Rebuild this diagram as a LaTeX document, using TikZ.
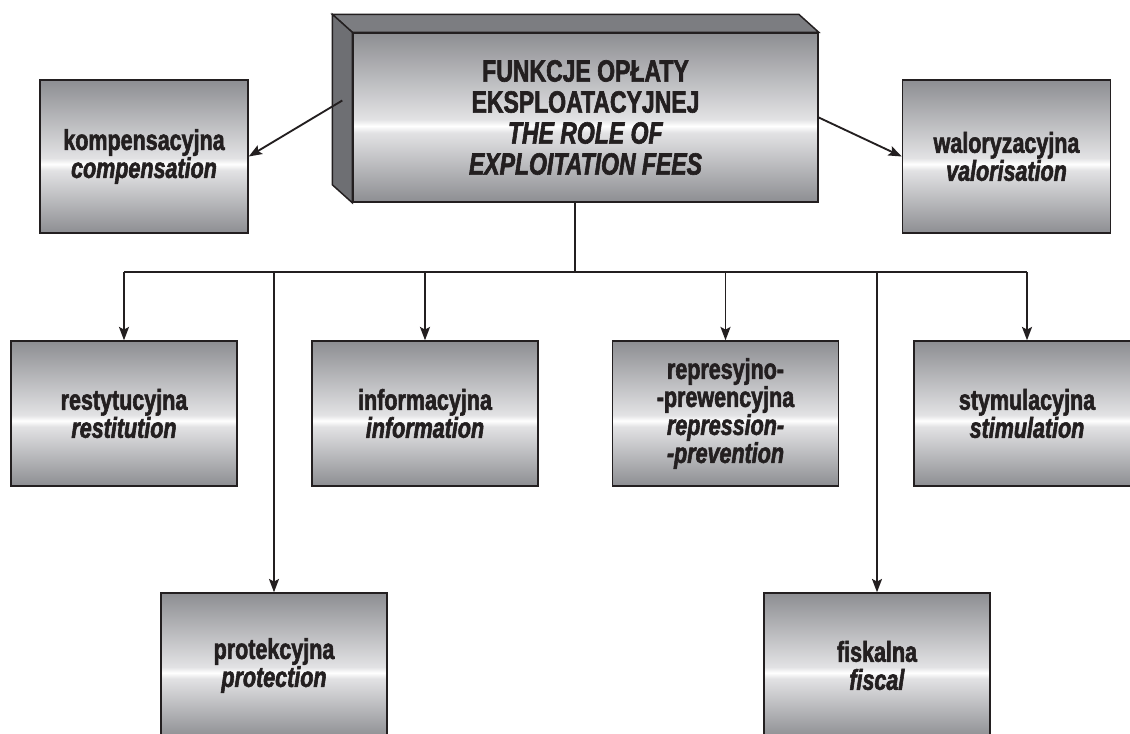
\documentclass[tikz,border=0pt]{standalone}
\usepackage{fontspec}
\setmainfont{Liberation Sans}[FakeStretch=0.75,BoldFont={Liberation Sans Bold},BoldItalicFont={Liberation Sans Bold Italic},BoldFeatures={FakeBold=2},BoldItalicFeatures={FakeBold=2}]
\usetikzlibrary{arrows.meta,calc}
\definecolor{ink}{HTML}{231F20}
\definecolor{metaldark}{HTML}{8D8E92}
\definecolor{metallight}{HTML}{E2E2E4}
\definecolor{topside}{HTML}{7C7D81}
\definecolor{leftside}{HTML}{6E6F73}
\pgfdeclareverticalshading{metal}{100bp}{color(0bp)=(metaldark); color(25bp)=(metaldark); color(45.5bp)=(metallight); color(47.5bp)=(white); color(49.5bp)=(metallight); color(75bp)=(metaldark); color(100bp)=(metaldark)}

\begin{document}
\begin{tikzpicture}[x=0.75pt,y=-0.75pt,fbox/.style={draw=ink,line width=1.1pt,shading=metal,text=ink,align=center,inner sep=0pt,font=\fontsize{21.5}{21}\selectfont\bfseries},topbox/.style={fbox,minimum width=156pt,minimum height=114.75pt},lowbox/.style={fbox,minimum width=169.5pt,minimum height=108.75pt},mainbox/.style={fbox,minimum width=348.75pt,minimum height=126.75pt,font=\fontsize{23}{23.25}\selectfont\bfseries},side/.style={draw=ink,line width=1.1pt,line join=miter},arr/.style={draw=ink,line width=1.4pt,-{Stealth[length=10pt,width=7.5pt,inset=2pt]}}]
\def\dx{-20};
\def\dy{-18};

\useasboundingbox (0,0) rectangle (1130,733);

\node[mainbox] (main) at (585.5,117.5) {FUNKCJE OPŁATY\\EKSPLOATACYJNEJ\\\textit{THE ROLE OF}\\\textit{EXPLOITATION FEES}};
\filldraw[side,fill=topside] (main.north west) -- ++(\dx,\dy) -- ($(main.north east)+(\dx,\dy)$) -- (main.north east) -- cycle;
\filldraw[side,fill=leftside] (main.north west) -- ++(\dx,\dy) -- ($(main.south west)+(\dx,\dy)$) -- (main.south west) -- cycle;
\coordinate (mleft) at ($(main.west)+(-10,-17)$);

\node[topbox] (komp) at (144,156.5) {kompensacyjna\\\textit{compensation}};
\draw[arr] (mleft) -- (komp.east);
\node[topbox] (walo) at (1006.5,156.5) {waloryzacyjna\\\textit{valorisation}};
\draw[arr] (main.east) -- (walo.west);

\node[lowbox] (rest) at (124,413.5) {restytucyjna\\\textit{restitution}};
\node[lowbox] (info) at (425,413.5) {informacyjna\\\textit{information}};
\node[lowbox] (repr) at (725.5,413.5) {represyjno-\\-prewencyjna\\\textit{repression-}\\\textit{-prevention}};
\node[lowbox] (stym) at (1027,413.5) {stymulacyjna\\\textit{stimulation}};
\node[lowbox] (prot) at (274,665.5) {protekcyjna\\\textit{protection}};
\node[lowbox] (fisk) at (877,665.5) {fiskalna\\\textit{fiscal}};

% bus
\coordinate (bus) at (575,272);
\draw[ink,line width=1.4pt] (main.south -| bus) -- (bus);
\draw[ink,line width=1.4pt] (rest.north |- bus) -- (stym.north |- bus);
\foreach \n in {rest,prot,info,repr,fisk,stym}
  \draw[arr] (\n.north |- bus) -- (\n.north);
\end{tikzpicture}
\end{document}
